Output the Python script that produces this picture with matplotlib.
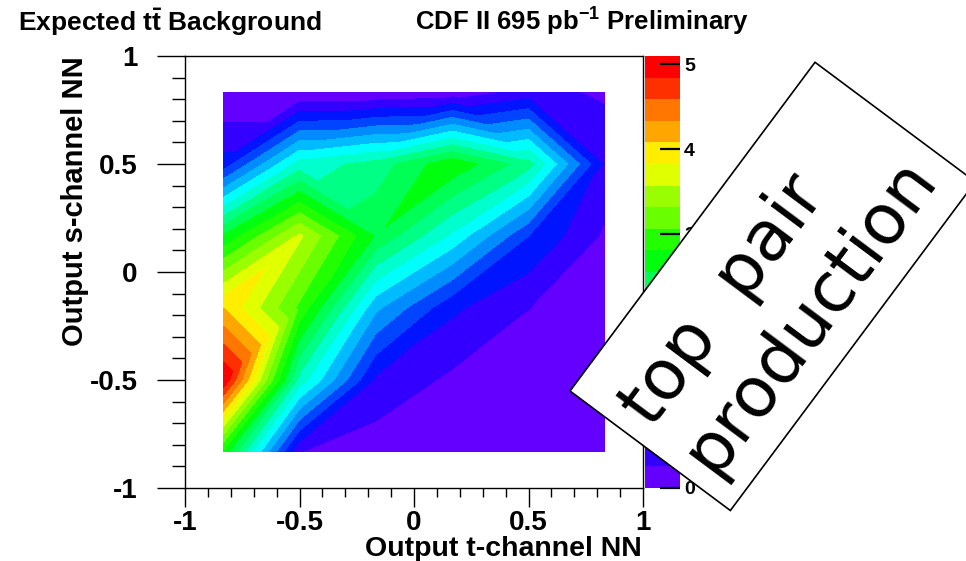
import colorsys

import matplotlib
matplotlib.use("Agg")
import matplotlib.pyplot as plt
import matplotlib.patches as mpatches
import matplotlib.transforms as mtransforms
import matplotlib.tri as mtri
import numpy as np
from matplotlib.ticker import MultipleLocator

plt.rcParams["font.family"] = ["Liberation Sans", "DejaVu Sans"]
plt.rcParams["font.weight"] = "bold"
plt.rcParams["axes.unicode_minus"] = False
plt.rcParams["mathtext.fontset"] = "custom"
plt.rcParams["mathtext.rm"] = "Liberation Sans:bold"
plt.rcParams["mathtext.it"] = "Liberation Sans:bold"
plt.rcParams["mathtext.bf"] = "Liberation Sans:bold"

# bin centres of the 6x6 histogram (t-channel NN on x, s-channel NN on y)
t_centers = [-0.833, -0.5, -0.167, 0.167, 0.5, 0.833]
s_centers = [-0.833, -0.5, -0.167, 0.167, 0.5, 0.833]

# expected ttbar events per bin, rows go from s = -0.833 (bottom) to s = 0.833 (top)
ttbar = [
    [2.75, 0.26, 0.10, 0.05, 0.05, 0.05],
    [5.10, 1.95, 0.46, 0.20, 0.10, 0.05],
    [4.08, 3.00, 1.33, 0.56, 0.26, 0.08],
    [2.58, 3.62, 2.52, 1.73, 0.77, 0.21],
    [0.61, 1.89, 2.14, 2.75, 2.14, 0.46],
    [0.00, 0.00, 0.02, 0.08, 0.35, 0.21],
]

z_max = 5.1
n_levels = 20
axis_ticks = [-1, -0.5, 0, 0.5, 1]
axis_labels = ["-1", "-0.5", "0", "0.5", "1"]
cbar_ticks = [0, 1, 2, 3, 4, 5]

W, H = 966, 561


def px_box(x0, y0, x1, y1):
    # pixel box (origin top-left) -> figure fraction rect
    return [x0 / W, 1 - y1 / H, (x1 - x0) / W, (y1 - y0) / H]


def root_palette(n):
    # old ROOT "pretty" palette: 50 hues violet -> red, sampled for n contours
    pal = []
    for i in range(49):
        hue = 280 - (i + 1) * 280 / 50
        pal.append(colorsys.hls_to_rgb(hue / 360, 0.5, 1.0))
    pal.append((1.0, 0.0, 0.0))
    return [pal[int((k + 0.99) * 50 / n)] for k in range(n)]


def grid_triangles(z):
    # split each cell in two; saddles join the high pair, otherwise the
    # diagonal avoids the most extreme corner so contours stay straight
    ny, nx = z.shape
    tris = []
    for j in range(ny - 1):
        for i in range(nx - 1):
            p00 = j * nx + i
            p10, p01, p11 = p00 + 1, p00 + nx, p00 + nx + 1
            a = (z[j, i], z[j + 1, i + 1])      # BL, TR
            b = (z[j, i + 1], z[j + 1, i])      # BR, TL
            if min(a) > max(b) or min(b) > max(a):
                use_a = np.mean(a) > np.mean(b)
            else:
                vals = np.array([z[j, i], z[j, i + 1], z[j + 1, i], z[j + 1, i + 1]])
                k = int(np.argmax(np.abs(vals - vals.mean())))
                use_a = k in (1, 2)
            if use_a:
                tris += [[p00, p10, p11], [p00, p11, p01]]
            else:
                tris += [[p00, p10, p01], [p10, p11, p01]]
    return tris


gx, gy = np.meshgrid(t_centers, s_centers)
z = np.asarray(ttbar, dtype=float)
tri = mtri.Triangulation(gx.ravel(), gy.ravel(), grid_triangles(z))

fig = plt.figure(figsize=(W / 100, H / 100), dpi=100)
ax = fig.add_axes(px_box(185, 56, 643, 488))
cax = fig.add_axes(px_box(645, 56, 680, 488))

levels = np.linspace(0, z_max, n_levels + 1)
cs = ax.tricontourf(tri, z.ravel(), levels=levels, colors=root_palette(n_levels))

ax.set_xlim(-1, 1)
ax.set_ylim(-1, 1)
ax.set_xticks(axis_ticks, axis_labels)
ax.set_yticks(axis_ticks, axis_labels)
ax.xaxis.set_minor_locator(MultipleLocator(0.1))
ax.yaxis.set_minor_locator(MultipleLocator(0.1))
ax.tick_params(axis="x", which="major", direction="out", length=13.7, width=1,
               labelsize=20, pad=2)
ax.tick_params(axis="x", which="minor", direction="out", length=6.5, width=1)
ax.tick_params(axis="y", which="major", direction="out", length=20, width=1,
               labelsize=20, pad=14)
ax.tick_params(axis="y", which="minor", direction="out", length=9.4, width=1)
for sp in ax.spines.values():
    sp.set_linewidth(1)

cb = fig.colorbar(cs, cax=cax, ticks=cbar_ticks)
cb.outline.set_visible(False)
cax.tick_params(direction="in", length=14.4, width=1.6, labelsize=14, pad=3)
cax.minorticks_off()

fig.text(18 / W, 1 - 31 / H, r"Expected t$\bar{t}$ Background", fontsize=19,
         ha="left", va="baseline")
fig.text(415 / W, 1 - 31 / H, r"CDF II 695 pb$^{-1}$ Preliminary", fontsize=18.5,
         ha="left", va="baseline")
fig.text(75 / W, 1 - 56 / H, "Output s-channel NN", rotation=90, fontsize=21,
         ha="center", va="top")
fig.text(642 / W, 1 - 556 / H, "Output t-channel NN", fontsize=20.5,
         ha="right", va="baseline")

# tilted "top pair production" label pasted over the plot
box_tr = mtransforms.Affine2D().rotate_deg(53.3).translate(5.70, 1.70) + fig.dpi_scale_trans
rect = mpatches.Rectangle((0, -2.0), 4.10, 2.00, transform=box_tr, facecolor="white",
                          edgecolor="black", linewidth=1.2, zorder=5)
fig.add_artist(rect)
fig.text(7.79, 2.69, "top  pair\nproduction", transform=fig.dpi_scale_trans,
         fontsize=50, family="DejaVu Sans", weight="normal", rotation=53.3,
         rotation_mode="anchor", ha="center", va="center", multialignment="left",
         zorder=6)

fig.savefig("out.png", dpi=100, facecolor="white")
